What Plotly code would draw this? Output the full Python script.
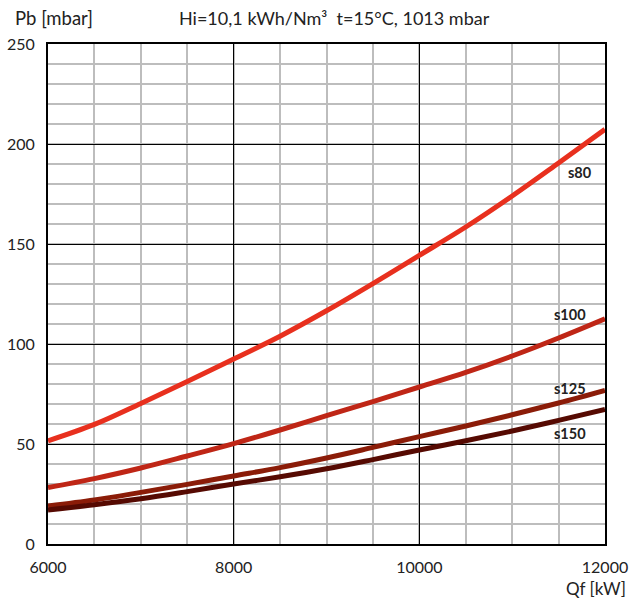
import plotly.graph_objects as go

qf = [6000, 6500, 7000, 7500, 8000, 8500, 9000, 9500, 10000, 10500, 11000, 11500, 12000]
s80 = [51.6, 59.8, 70.3, 81.2, 92.5, 103.9, 116.6, 130.2, 144.3, 158.5, 174.0, 190.5, 207.3]
s100 = [28.2, 32.7, 38.0, 44.0, 50.2, 57.0, 64.2, 71.2, 78.5, 85.8, 94.0, 103.0, 112.6]
s125 = [19.0, 22.0, 25.8, 29.8, 34.0, 38.2, 43.0, 48.3, 53.7, 59.0, 64.6, 70.5, 76.8]
s150 = [17.0, 19.6, 22.6, 26.2, 30.0, 33.6, 37.6, 42.2, 47.0, 51.6, 56.5, 61.8, 67.3]

series_names = ["s80", "s100", "s125", "s150"]
series_vals = [s80, s100, s125, s150]
colors = ["#e8301e", "#bf2616", "#8b1c08", "#560a02"]
label_x = [11730, 11620, 11620, 11620]
label_y = [186, 115, 78, 55.5]

FONT = "Lato, 'Open Sans', sans-serif"
TXT = "#222222"

fig = go.Figure()
for name, vals, c in zip(series_names, series_vals, colors):
    fig.add_trace(go.Scatter(x=qf, y=vals, mode="lines", name=name,
                             line=dict(color=c, width=5, shape="spline", smoothing=1.0),
                             showlegend=False, hoverinfo="skip"))

for name, lx, ly in zip(series_names, label_x, label_y):
    fig.add_annotation(x=lx, y=ly, text="<b>" + name + "</b>", showarrow=False,
                       font=dict(family=FONT, size=14.5, color=TXT),
                       xanchor="center", yanchor="middle")

# plot area: x 48..605, y 44..544 (500 px tall)
fig.add_annotation(xref="paper", yref="paper", x=-0.063, y=1.052, text="Pb [mbar]",
                   showarrow=False, xanchor="left", yanchor="middle",
                   font=dict(family=FONT, size=18.5, color=TXT))
fig.add_annotation(xref="paper", yref="paper", x=0.2316, y=1.052,
                   text="Hi=10,1 kWh/Nm³  t=15°C, 1013 mbar",
                   showarrow=False, xanchor="left", yanchor="middle",
                   font=dict(family=FONT, size=18, color=TXT))
fig.add_annotation(xref="paper", yref="paper", x=1.041, y=-0.088, text="Qf [kW]",
                   showarrow=False, xanchor="right", yanchor="middle",
                   font=dict(family=FONT, size=17, color=TXT))

fig.update_xaxes(range=[6000, 12000], tickvals=[6000, 8000, 10000, 12000],
                 ticktext=["6000", "8000", "10000", "12000"],
                 showgrid=True, gridcolor="#000000", gridwidth=1,
                 minor=dict(dtick=500, showgrid=True, gridcolor="#bdbdbd", gridwidth=1.5),
                 showline=True, linecolor="#000000", linewidth=2, mirror=True,
                 ticks="", ticklabelstandoff=8, zeroline=False, automargin=False,
                 tickfont=dict(family=FONT, size=16, color=TXT))
fig.update_yaxes(range=[0, 250], tickvals=[0, 50, 100, 150, 200, 250],
                 showgrid=True, gridcolor="#000000", gridwidth=1,
                 minor=dict(dtick=10, showgrid=True, gridcolor="#bdbdbd", gridwidth=1.5),
                 showline=True, linecolor="#000000", linewidth=2, mirror=True,
                 ticks="", ticklabelstandoff=8, zeroline=False, automargin=False,
                 tickfont=dict(family=FONT, size=16, color=TXT))

fig.update_layout(width=630, height=598, margin=dict(l=48, r=25, t=44, b=54),
                  plot_bgcolor="white", paper_bgcolor="white")

fig.write_html("out.html", config={"displayModeBar": False},
               post_script="document.body.style.margin='0';document.body.style.overflow='hidden';")
